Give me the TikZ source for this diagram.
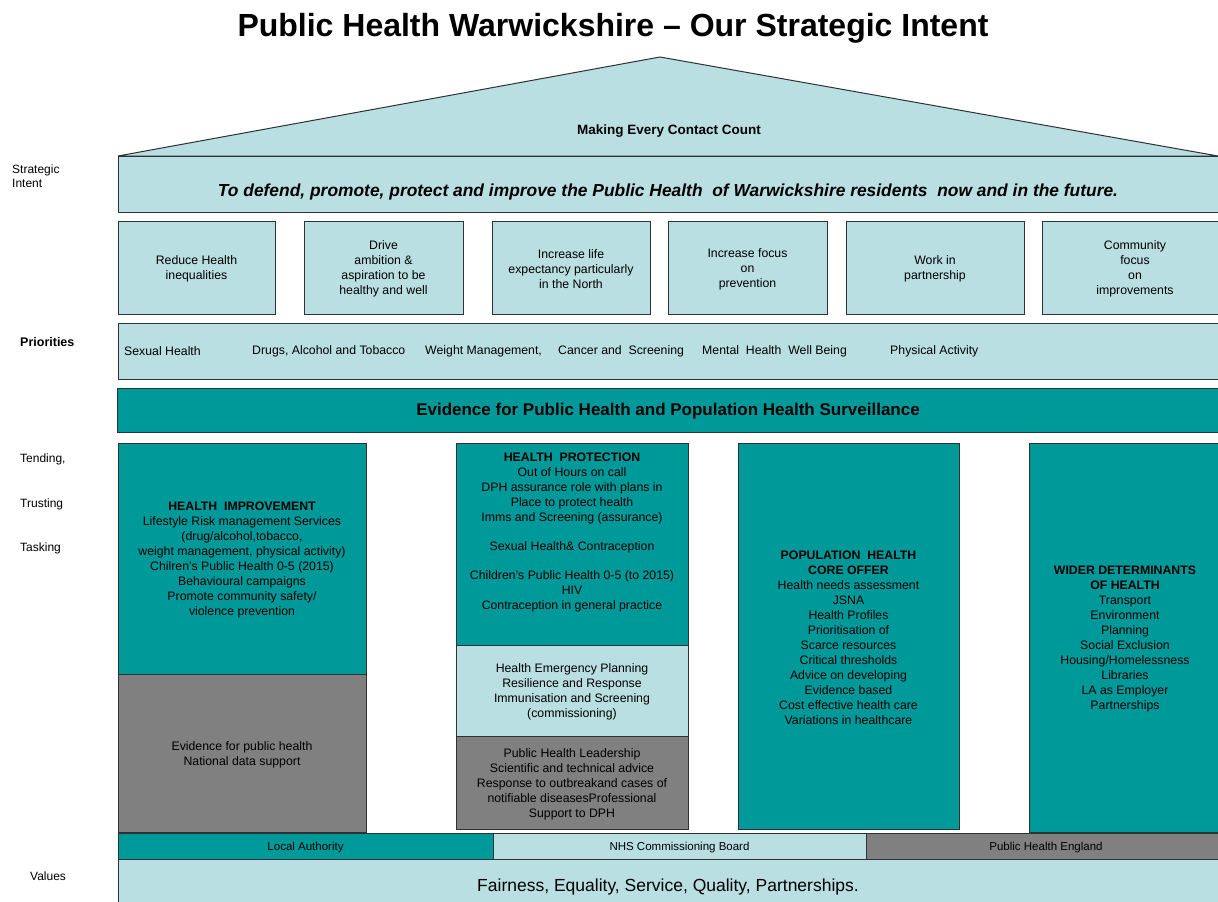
\documentclass[tikz,border=0pt]{standalone}
\usepackage{fontspec}
\setmainfont{Liberation Sans}
\usetikzlibrary{positioning}

\definecolor{paleteal}{RGB}{185,223,226}
\definecolor{deepteal}{RGB}{0,153,153}
\definecolor{slate}{RGB}{128,128,128}
\definecolor{edge}{RGB}{45,50,50}

\newcommand\boxfont{\fontsize{12.3}{15}\selectfont}
\tikzset{
    house/.style  = {x=1pt, y=-1pt},
    panel/.style  = {draw=edge, line width=1pt, inner sep=0pt, outer sep=0pt,
                     anchor=north west, align=center, font=\boxfont},
    pale/.style   = {panel, fill=paleteal},
    deep/.style   = {panel, fill=deepteal},
    grey/.style   = {panel, fill=slate},
    plain/.style  = {inner sep=0pt, font=\boxfont, align=center, yshift=-1.5pt},
    side/.style   = {plain, anchor=west, align=left,
                     font=\fontsize{12}{14}\selectfont}
}
\def\roofapex{660}

\begin{document}
\begin{tikzpicture}[house]
\clip (0,0) rectangle (1218,902);
\fill[white] (0,0) rectangle (1218,902);

\node[plain, font=\fontsize{32}{36}\selectfont\bfseries] (title) at (613,27)
    {Public Health Warwickshire -- Our Strategic Intent};

% Roof and strategic intent band
\draw[fill=paleteal, draw=edge, line width=1pt]
    (118,156) -- (\roofapex,57) -- (1218,156) -- cycle;
\node[plain, font=\fontsize{13.5}{16}\selectfont\bfseries] (mecc) at (669,130)
    {Making Every Contact Count};
\node[pale, minimum width=1110pt, minimum height=56pt] (intent) at (118,156) {};
\node[plain, font=\fontsize{17.4}{20}\selectfont\bfseries\itshape] (intent-text) at (668,190)
    {To defend, promote, protect and improve the Public Health\ \ of Warwickshire residents\ \ now and in the future.};

% Strategic aims
\foreach \name/\x/\w/\txt in {
    inequalities/118/157/{Reduce Health\\inequalities},
    ambition/304/159/{Drive\\ambition \&\\aspiration to be\\healthy and well},
    life/492/158/{Increase life\\expectancy particularly\\in the North},
    prevention/668/159/{Increase focus\\on\\prevention},
    partnership/846/178/{Work in\\partnership},
    community/1042/186/{Community\\focus\\on\\improvements}} {
    \node[pale, minimum width=\w pt, minimum height=93pt] (aim-\name) at (\x,221) {};
    \node[plain] at (aim-\name.center) {\txt};
}

% Priorities
\node[pale, minimum width=1110pt, minimum height=56pt] (priorities) at (118,323) {};
\foreach \name/\x/\txt in {
    sexual/124/{Sexual Health},
    drugs/252/{Drugs, Alcohol and Tobacco},
    weight/425/{Weight Management,},
    cancer/558/{Cancer and\ \ Screening},
    mental/702/{Mental\ \ Health\ \ Well Being},
    physical/890/{Physical Activity}} {
    \node[plain, anchor=west] (prio-\name) at (\x,350) {\txt};
}

\node[deep, minimum width=1111pt, minimum height=44pt] (evidence) at (117,388) {};
\node[plain, font=\fontsize{17}{20}\selectfont\bfseries] (evidence-text) at (668,410)
    {Evidence for Public Health and Population Health Surveillance};

% Pillars
\node[deep, minimum width=248pt, minimum height=231pt] (hi-top) at (118,443) {};
\node[plain] (hi-text) at (hi-top.center)
    {\textbf{HEALTH\ \ IMPROVEMENT}\\Lifestyle Risk management Services\\(drug/alcohol,tobacco,\\
     weight management, physical activity)\\Chilren's Public Health 0-5 (2015)\\
     Behavioural campaigns\\Promote community safety/\\violence prevention};
\node[grey, minimum width=248pt, minimum height=158pt] (hi-base) at (118,674) {};
\node[plain] (hi-base-text) at (hi-base.center)
    {Evidence for public health\\National data support};

\node[deep, minimum width=232pt, minimum height=202pt] (hp-top) at (456,443) {};
\node[plain, anchor=north] (hp-text) at ([yshift=-8pt]hp-top.north)
    {\textbf{HEALTH\ \ PROTECTION}\\Out of Hours on call\\DPH assurance role with plans in\\
     Place to protect health\\Imms and Screening (assurance)\\[14pt]
     Sexual Health\& Contraception\\[14pt]
     Children's Public Health 0-5 (to 2015)\\HIV\\Contraception in general practice};
\node[pale, minimum width=232pt, minimum height=91pt] (hp-mid) at (456,645) {};
\node[plain] (hp-mid-text) at (hp-mid.center)
    {Health Emergency Planning\\Resilience and Response\\Immunisation and Screening\\(commissioning)};
\node[grey, minimum width=232pt, minimum height=93pt] (hp-base) at (456,736) {};
\node[plain] (hp-base-text) at (hp-base.center)
    {Public Health Leadership\\Scientific and technical advice\\Response to outbreakand cases of\\
     notifiable diseasesProfessional\\Support to DPH};

\node[deep, minimum width=221pt, minimum height=386pt] (population) at (738,443) {};
\node[plain] (population-text) at (population.center)
    {\textbf{POPULATION\ \ HEALTH}\\\textbf{CORE OFFER}\\Health needs assessment\\JSNA\\
     Health Profiles\\Prioritisation of\\Scarce resources\\Critical thresholds\\
     Advice on developing\\Evidence based\\Cost effective health care\\Variations in healthcare};
\node[deep, minimum width=195pt, minimum height=389pt] (wider) at (1029,443) {};
\node[plain] (wider-text) at (1125,637)
    {\textbf{WIDER DETERMINANTS}\\\textbf{OF HEALTH}\\Transport\\Environment\\Planning\\
     Social Exclusion\\Housing/Homelessness\\Libraries\\LA as Employer\\Partnerships};

% Organisations and values
\foreach \name/\x/\w/\look/\txt in {
    la/118/375/deep/{Local Authority},
    nhs/493/373/pale/{NHS Commissioning Board},
    phe/866/360/grey/{Public Health England}} {
    \node[\look, minimum width=\w pt, minimum height=26pt] (org-\name) at (\x,833) {};
    \node[plain, font=\fontsize{11.5}{13}\selectfont] at (org-\name.center) {\txt};
}
\node[pale, minimum width=1110pt, minimum height=50pt] (values) at (118,859) {};
\node[plain, font=\fontsize{17.5}{20}\selectfont] (values-text) at (668,885)
    {Fairness, Equality, Service, Quality, Partnerships.};

% Row labels
\node[side] (lbl-intent) at (12,175) {Strategic\\Intent};
\node[side, font=\fontsize{12.5}{14}\selectfont\bfseries] (lbl-priorities) at (20,341) {Priorities};
\foreach \name/\y/\txt in {tending/458/{Tending,}, trusting/503/Trusting, tasking/547/Tasking} {
    \node[side] (lbl-\name) at (20,\y) {\txt};
}
\node[side] (lbl-values) at (30,875) {Values};

\end{tikzpicture}
\end{document}
